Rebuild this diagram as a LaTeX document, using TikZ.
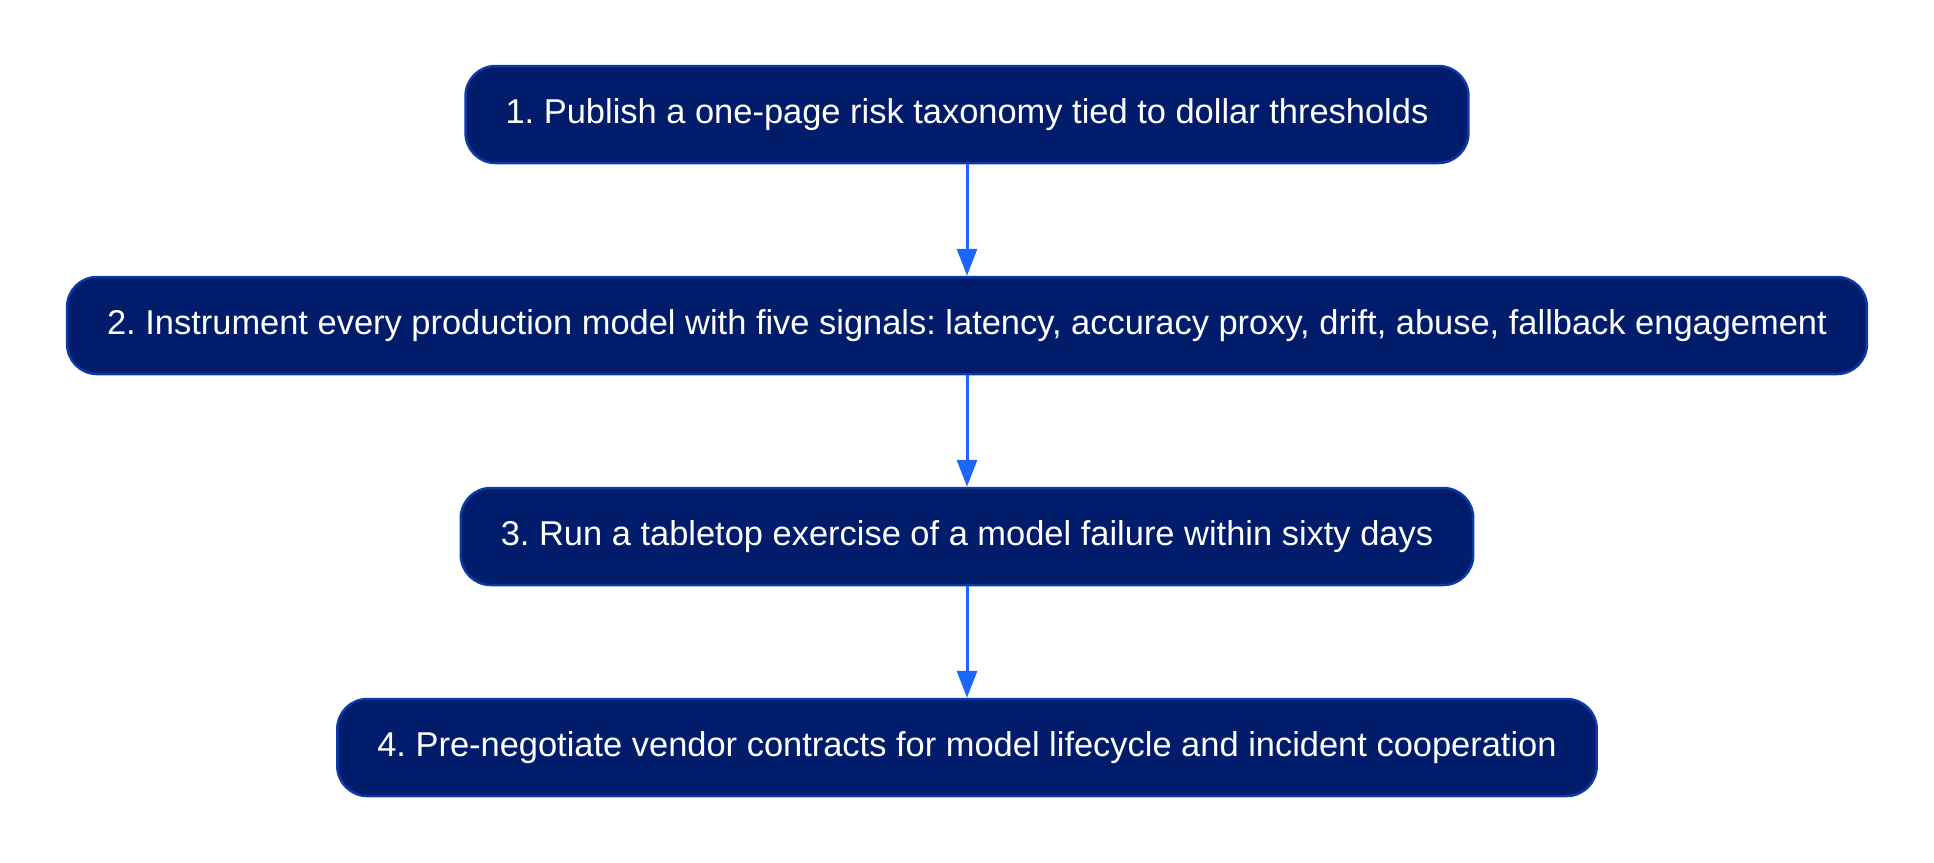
\documentclass[tikz,border=0pt]{standalone}
\usepackage{fontspec}
\setmainfont{Liberation Sans}
\usepackage{xcolor}
\usepackage{tikz}
\usetikzlibrary{arrows.meta}

\definecolor{stepfill}{HTML}{001C6B}
\definecolor{stepline}{HTML}{0B3AA8}
\definecolor{steparrow}{HTML}{1A66FF}

\begin{document}
\frenchspacing
\begin{tikzpicture}
			\useasboundingbox (0,0) rectangle (19.34,-8.62);
			
			\begin{scope}[every node/.style={rectangle, draw = stepline, fill = stepfill, line width = 0.25mm, rounded corners = 3mm, minimum height = 0.97cm, inner xsep = 0.4cm, text = white, font = \fontsize{9.8}{12}\selectfont}]
			\node (1) at (9.67, -1.145) {1. Publish a one-page risk taxonomy tied to dollar thresholds};
			\node (2) at (9.67, -3.255) {2. Instrument every production model with five signals: latency, accuracy proxy, drift, abuse, fallback engagement};
			\node (3) at (9.67, -5.365) {3. Run a tabletop exercise of a model failure within sixty days};
			\node (4) at (9.67, -7.475) {4. Pre-negotiate vendor contracts for model lifecycle and incident cooperation};
			\end{scope}
			
			\begin{scope}[>={Triangle[length = 2.7mm, width = 2mm]},
			every edge/.style = {draw = steparrow, line width = 0.3mm}]
			\path [->] 	(1) edge node {} (2)
			(2) edge node {} (3)
			(3) edge node {} (4);
			\end{scope}
			
			\end{tikzpicture}
\end{document}
